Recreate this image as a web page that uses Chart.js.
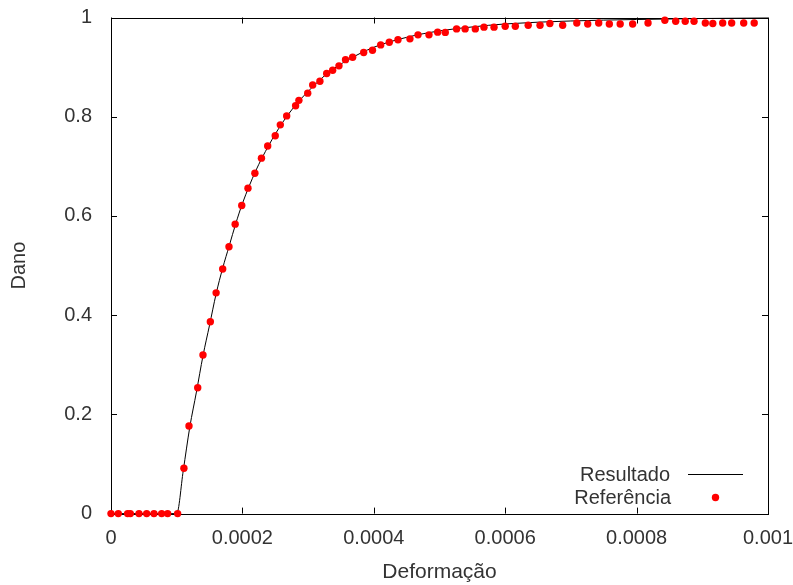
<!DOCTYPE html>
<html>
<head>
<meta charset="utf-8">
<script src="https://cdn.jsdelivr.net/npm/chart.js@4"></script>
<style>
  body { margin: 0; background: #fff; }
  canvas { display: block; }
</style>
</head>
<body>
<canvas id="chart" width="793" height="585"></canvas>
<script>
// reference points (Referência)
var refX = [0, 0.0000111, 0.0000253, 0.0000294, 0.0000426, 0.0000543, 0.0000654, 0.0000771, 0.0000862, 0.0001014,
    0.000111, 0.0001187, 0.000132, 0.00014, 0.0001512, 0.00016, 0.00017, 0.0001796, 0.000189, 0.000199,
    0.0002085, 0.000219, 0.000229, 0.0002385, 0.00025, 0.0002577, 0.0002674, 0.000281, 0.000286, 0.0002994,
    0.000307, 0.000318, 0.0003283, 0.0003374, 0.000347, 0.000357, 0.0003678, 0.0003846, 0.000398, 0.0004105,
    0.0004236, 0.0004368, 0.000455, 0.0004673, 0.000484, 0.0004972, 0.0005088, 0.000526, 0.000539, 0.0005545,
    0.0005677, 0.000583, 0.0006, 0.0006154, 0.000635, 0.000653, 0.000668, 0.0006875, 0.000709, 0.0007256,
    0.0007423, 0.0007585, 0.000775, 0.000794, 0.0008174, 0.000843, 0.0008595, 0.000874, 0.0008874, 0.0009046,
    0.000916, 0.000931, 0.0009447, 0.000963, 0.000979];
var refY = [0, 0, 0, 0, 0, 0, 0, 0, 0, 0,
    0.0913, 0.1765, 0.2537, 0.3196, 0.3867, 0.445, 0.493, 0.5378, 0.5835, 0.621,
    0.656, 0.686, 0.7165, 0.741, 0.7615, 0.7836, 0.8017, 0.822, 0.833, 0.8475,
    0.864, 0.8716, 0.887, 0.8938, 0.9025, 0.915, 0.92, 0.9294, 0.934, 0.9448,
    0.950, 0.955, 0.957, 0.965, 0.965, 0.9705, 0.970, 0.977, 0.977, 0.977,
    0.9805, 0.9805, 0.9825, 0.9825, 0.9845, 0.9845, 0.988, 0.9845, 0.989, 0.987,
    0.989, 0.987, 0.987, 0.987, 0.989, 0.9945, 0.9925, 0.9925, 0.9925, 0.989,
    0.988, 0.989, 0.989, 0.989, 0.989];

// computed curve (Resultado)
var resX = [0, 0.0001, 0.00011, 0.00012, 0.00013, 0.00014, 0.00015, 0.00016, 0.00017, 0.00018, 0.00019,
    0.0002, 0.00022, 0.00024, 0.00026, 0.00028, 0.0003, 0.00033, 0.00036, 0.0004, 0.00045,
    0.0005, 0.00055, 0.0006, 0.0007, 0.0008, 0.0009, 0.001];
var resY = [0, 0, 0.087, 0.175, 0.245, 0.318, 0.38, 0.443, 0.495, 0.54, 0.585,
    0.625, 0.69, 0.742, 0.786, 0.822, 0.851, 0.888, 0.914, 0.940, 0.960,
    0.973, 0.981, 0.987, 0.993, 0.996, 0.998, 0.999];

var xTicks = [0, 0.0002, 0.0004, 0.0006, 0.0008, 0.001];
var xTickLabels = ['0', '0.0002', '0.0004', '0.0006', '0.0008', '0.001'];
var yTicks = [0, 0.2, 0.4, 0.6, 0.8, 1];
var yTickLabels = ['0', '0.2', '0.4', '0.6', '0.8', '1'];

var seriesNames = ['Resultado', 'Referência'];
var xTitle = 'Deformação';
var yTitle = 'Dano';

var textColor = '#333';
var fontFamily = '"Liberation Sans", Arial, sans-serif';
var font = { family: fontFamily, size: 20 };

function toPoints(xs, ys) {
    return xs.map(function(x, i) { return { x: x, y: ys[i] }; });
}

function noPadding(s) {
    s.paddingTop = 0; s.paddingBottom = 0;
    s.paddingLeft = 0; s.paddingRight = 0;
}

// box + inward ticks on all sides, gnuplot style
var frame = {
    id: 'frame',
    beforeDatasetsDraw: function(chart) {
        var ctx = chart.ctx, a = chart.chartArea;
        var xs = chart.scales.x, ys = chart.scales.y;
        var len = 6;
        ctx.save();
        ctx.strokeStyle = '#000';
        ctx.lineWidth = 1;
        ctx.beginPath();
        xTicks.forEach(function(v) {
            var px = Math.round(xs.getPixelForValue(v)) + 0.5;
            ctx.moveTo(px, a.bottom); ctx.lineTo(px, a.bottom - len);
            ctx.moveTo(px, a.top); ctx.lineTo(px, a.top + len);
        });
        yTicks.forEach(function(v) {
            var py = Math.round(ys.getPixelForValue(v)) + 0.5;
            ctx.moveTo(a.left, py); ctx.lineTo(a.left + len, py);
            ctx.moveTo(a.right, py); ctx.lineTo(a.right - len, py);
        });
        ctx.stroke();
        ctx.strokeRect(Math.round(a.left) + 0.5, Math.round(a.top) + 0.5,
            Math.round(a.right - a.left), Math.round(a.bottom - a.top));
        ctx.restore();
    },
    afterDraw: function(chart) {
        var ctx = chart.ctx;
        ctx.save();
        ctx.font = '20px ' + fontFamily;
        ctx.fillStyle = textColor;
        ctx.textAlign = 'right';
        ctx.textBaseline = 'alphabetic';
        ctx.fillText(seriesNames[0], 670, 480.5);
        ctx.fillText(seriesNames[1], 671, 504);
        ctx.strokeStyle = '#000';
        ctx.lineWidth = 1;
        ctx.beginPath();
        ctx.moveTo(688, 474.5);
        ctx.lineTo(743, 474.5);
        ctx.stroke();
        ctx.fillStyle = '#ff0000';
        ctx.beginPath();
        ctx.arc(715.5, 497.5, 3.7, 0, Math.PI * 2);
        ctx.fill();
        ctx.restore();
    }
};

var ctx = document.getElementById('chart').getContext('2d');
var chart = new Chart(ctx, {
    type: 'scatter',
    data: {
        datasets: [{
            label: seriesNames[0],
            data: toPoints(resX, resY),
            showLine: true,
            borderColor: '#000',
            borderWidth: 1,
            pointRadius: 0,
            cubicInterpolationMode: 'monotone',
            clip: false,
            order: 2
        }, {
            label: seriesNames[1],
            data: toPoints(refX, refY),
            showLine: false,
            backgroundColor: '#ff0000',
            borderWidth: 0,
            pointRadius: 3.7,
            pointStyle: 'circle',
            clip: false,
            order: 1
        }]
    },
    options: {
        responsive: false,
        animation: false,
        devicePixelRatio: 1,
        layout: { padding: { left: 0, top: 17.5, right: 25, bottom: 0 } },
        plugins: {
            legend: { display: false },
            tooltip: { enabled: false }
        },
        scales: {
            x: {
                type: 'linear',
                min: 0,
                max: 0.001,
                grid: { display: false },
                border: { display: false },
                afterBuildTicks: function(s) { s.ticks = xTicks.map(function(v) { return { value: v }; }); },
                afterFit: function(s) { s.height = 71.4; noPadding(s); },
                ticks: {
                    autoSkip: false,
                    maxRotation: 0,
                    padding: 4.5,
                    color: textColor,
                    font: font,
                    callback: function(v, i) { return xTickLabels[i]; }
                },
                title: {
                    display: true,
                    text: xTitle,
                    color: textColor,
                    font: { family: fontFamily, size: 21 },
                    padding: { top: 0, bottom: 0.6 }
                }
            },
            y: {
                type: 'linear',
                min: 0,
                max: 1,
                grid: { display: false },
                border: { display: false },
                afterBuildTicks: function(s) { s.ticks = yTicks.map(function(v) { return { value: v }; }); },
                afterFit: function(s) { s.width = 111; noPadding(s); },
                ticks: {
                    autoSkip: false,
                    padding: 11,
                    color: textColor,
                    font: font,
                    callback: function(v, i) { return yTickLabels[i]; }
                },
                title: {
                    display: true,
                    text: yTitle,
                    color: textColor,
                    font: font,
                    padding: { top: 7.7, bottom: 0 }
                }
            }
        }
    },
    plugins: [frame]
});
</script>
</body>
</html>
